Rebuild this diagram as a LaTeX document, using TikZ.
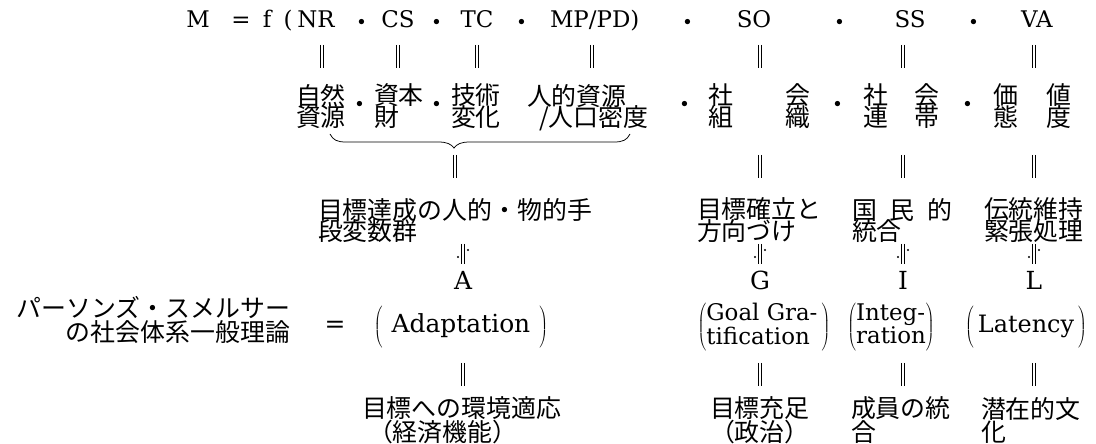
\documentclass[tikz,border=0pt]{standalone}
\usepackage{fontspec}
\newfontfamily\jpfont{Noto Sans CJK JP}
\newfontfamily\latfont{DejaVu Serif}
\setlength{\lineskiplimit}{-100pt}
\newcommand\twoline[2]{\vcenter{\hbox{\lineskiplimit=0pt\begin{tabular}{@{}l@{}}#1\\#2\end{tabular}}}}
\begin{document}
\begin{tikzpicture}[x=1bp,y=-1bp,
  every node/.style={inner sep=0pt, outer sep=0pt},
  lat/.style={font=\latfont\fontsize{23}{26}\selectfont, anchor=base},
  latb/.style={font=\latfont\fontsize{25}{28}\selectfont, anchor=base},
  latp/.style={font=\latfont\fontsize{25}{28}\selectfont, anchor=base},
  latq/.style={font=\latfont\fontsize{23}{22}\selectfont, anchor=base},
  jp/.style={font=\jpfont\fontsize{25}{21.5}\selectfont, anchor=north west, align=left},
  jpb/.style={font=\jpfont\fontsize{25}{24}\selectfont, anchor=north west, align=left},
  jpdot/.style={font=\jpfont\fontsize{25}{25}\selectfont, anchor=base},
  bar/.style={line width=0.75bp},
  vbar/.pic={\draw[bar] (-1.6,0) -- (-1.6,23) (1.6,0) -- (1.6,23);},
  approx/.pic={\draw[bar] (-1.6,0) -- (-1.6,20) (1.6,0) -- (1.6,20);
     \fill (-5,13) circle[radius=1.2bp]; \fill (5,6) circle[radius=1.2bp];},
]
\useasboundingbox (0,0) rectangle (1096,444);
% row 1
\node[lat] (M) at (198,28) {M};
\node[lat] (eqa) at (241,28) {=};
\node[lat] (f) at (267,28) {f};
\node[lat] (lpar) at (288,28) {(};
\node[lat] (NR) at (316,28) {NR};
\node[jpdot] (d1) at (362,31.5) {・};
\node[lat] (CS) at (398,28) {CS};
\node[jpdot] (d2) at (437,31.5) {・};
\node[lat] (TC) at (477,28) {TC};
\node[jpdot] (d3) at (522,31.5) {・};
\node[lat,anchor=base west] (MP) at (550,28) {MP/PD)};
\node[jpdot] (d4) at (688,31.5) {・};
\node[lat] (SO) at (754,28) {SO};
\node[jpdot] (d5) at (840,31.5) {・};
\node[lat] (SS) at (910,28) {SS};
\node[jpdot] (d6) at (974,31.5) {・};
\node[lat] (VA) at (1037,28) {VA};
\foreach \x in {322,398,477,592,760,903,1034} \pic at (\x,45) {vbar};
% row 2
\node[jp] (nr2) at (296,84) {自然\\資源};
\node[jpdot] (e1) at (360,113.5) {・};
\node[jp] (cs2) at (374,84) {資本\\財};
\node[jpdot] (e2) at (437,113.5) {・};
\node[jp] (tc2) at (451,84) {技術\\変化};
\node[jp] (mp2a) at (527,84) {人的資源};
\node[jp] (mp2b) at (539,105.5) {/人口密度};
\node[jpdot] (e3) at (685,113.5) {・};
\node[jp] (so2) at (708,84) {社\hspace{53bp}会\\組\hspace{53bp}織};
\node[jpdot] (e4) at (838,113.5) {・};
\node[jp] (ss2) at (863,84) {社\hspace{27bp}会\\連\hspace{27bp}帯};
\node[jpdot] (e5) at (968,113.5) {・};
\node[jp] (va2) at (993,84) {価\hspace{29bp}値\\態\hspace{29bp}度};
% brace
\coordinate (tip) at (454,148);
\draw[bar] (330,134) .. controls (333,140) and (337,142) .. (346,142) -- (438,142)
  .. controls (447,142) and (451,144) .. (tip)
  .. controls (457,144) and (461,142) .. (470,142) -- (614,142)
  .. controls (623,142) and (627,140) .. (630,134);
\foreach \x in {455,760,903,1034} \pic at (\x,155) {vbar};
% row 3
\node[jp] (ag3) at (318,198) {目標達成の人的・物的手\\段変数群};
\node[jp] (g3) at (697,198) {目標確立と\\方向づけ};
\node[jp] (i3) at (852,198) {国\hspace{13bp}民\hspace{13bp}的\\統合};
\node[jp] (l3) at (984,198) {伝統維持\\緊張処理};
\foreach \x in {463,760,903,1034} \pic at (\x,244) {approx};
\node[latb] (A) at (463,290) {A};
\node[latb] (G) at (760,290) {G};
\node[latb] (I) at (903,290) {I};
\node[latb] (L) at (1034,290) {L};
% AGIL row
\node[jpb, anchor=north east, align=right] (psn) at (290,296) {パーソンズ・スメルサー\\の社会体系一般理論};
\node[latb] (eqb) at (335,333) {=};
\node[latp] (Ad) at (461,333) {$\left(\vrule height 27bp depth 15bp width 0pt\hspace{9bp}\hbox{Adaptation}\hspace{9bp}\right)$};
\node[latq] (Gg) at (764,333) {$\left(\twoline{Goal Gra-}{tification}\,\right)$};
\node[latq] (Ir) at (891,333) {$\left(\twoline{Integ-}{ration}\right)$};
\node[latp, font=\latfont\fontsize{24}{28}\selectfont] (La) at (1026,333) {$\left(\vrule height 27bp depth 15bp width 0pt\,\hbox{Latency}\,\right)$};
\foreach \x in {463,760,903,1034} \pic at (\x,363) {vbar};
% bottom
\node[jpb] (a5) at (362,397) {目標への環境適応\\\hspace{6bp}（経済機能）};
\node[jpb] (g5) at (710,397) {目標充足\\（政治）};
\node[jpb] (i5) at (851,397) {成員の統\\合};
\node[jpb] (l5) at (981,397) {潜在的文\\化};
\end{tikzpicture}
\end{document}
